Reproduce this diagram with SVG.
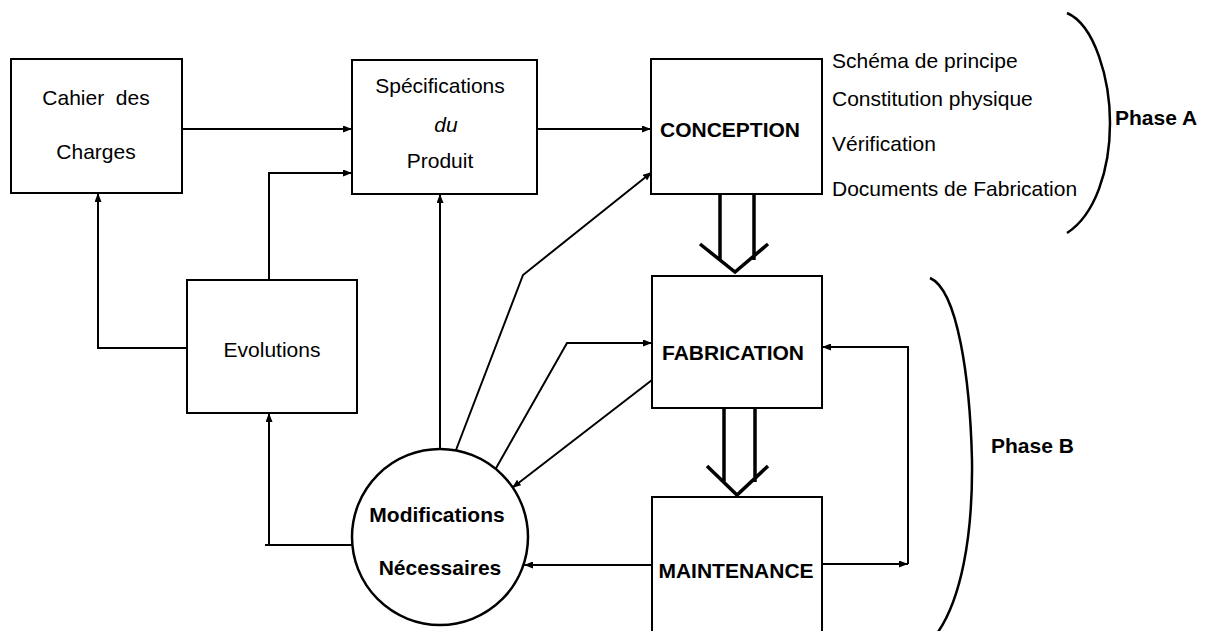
<svg xmlns="http://www.w3.org/2000/svg" width="1215" height="631" viewBox="0 0 1215 631">
  <style>
    .box { fill: #fff; stroke: #000; stroke-width: 2; }
    .lbl { font-family: "Liberation Sans", Arial, sans-serif; font-size: 21px; fill: #000; text-anchor: middle; }
    .bold { font-weight: bold; }
    .side { font-family: "Liberation Sans", Arial, sans-serif; font-size: 21px; fill: #000; }
    .conn { fill: none; stroke: #000; stroke-width: 2; }
    .flow { fill: none; stroke: #000; stroke-width: 3.5; stroke-linejoin: miter; }
    .brace { fill: none; stroke: #000; stroke-width: 2.5; }
  </style>
  <defs>
    <marker id="arrow" markerUnits="userSpaceOnUse" markerWidth="9" markerHeight="7" refX="9" refY="3.5" orient="auto">
      <path d="M0,0 L9,3.5 L0,7 z" fill="#000"/>
    </marker>
  </defs>
  <rect width="1215" height="631" fill="#fff"/>

  <!-- connectors -->
  <g id="connectors">
    <path class="conn" d="M182,129 H352" marker-end="url(#arrow)"/>
    <path class="conn" d="M269,280 V173 H352" marker-end="url(#arrow)"/>
    <path class="conn" d="M187,348 H98 V193" marker-end="url(#arrow)"/>
    <path class="conn" d="M537,129 H651" marker-end="url(#arrow)"/>
    <path class="conn" d="M440,449 V194" marker-end="url(#arrow)"/>
    <path class="conn" d="M456,450 L523,275 L652,172" marker-end="url(#arrow)"/>
    <path class="conn" d="M495,470 L567,343 H652" marker-end="url(#arrow)"/>
    <path class="conn" d="M652,380 L512,488" marker-end="url(#arrow)"/>
    <path class="conn" d="M652,565 H524" marker-end="url(#arrow)"/>
    <path class="conn" d="M352,545 H265 M269,545 V413" marker-end="url(#arrow)"/>
    <path class="conn" d="M822,564 H908" marker-end="url(#arrow)"/>
    <path class="conn" d="M908,564 V347 H822" marker-end="url(#arrow)"/>
    <!-- hollow flow arrows between phases -->
    <path class="flow" d="M720,194 V260 M754,194 V260 M700,244 L735,272 L768,244"/>
    <path class="flow" d="M724,408 V482 M755,408 V482 M707,466 L737,495 L768,466"/>
  </g>

  <g id="cahier">
    <rect class="box" x="11" y="59" width="171" height="134"/>
    <text class="lbl" x="96" y="105" xml:space="preserve">Cahier  des</text>
    <text class="lbl" x="96" y="159">Charges</text>
  </g>

  <g id="specifications">
    <rect class="box" x="352" y="60" width="185" height="134"/>
    <text class="lbl" x="440" y="93">Spécifications</text>
    <text class="lbl" x="446" y="132" font-style="italic">du</text>
    <text class="lbl" x="440" y="168">Produit</text>
  </g>

  <g id="evolutions">
    <rect class="box" x="187" y="280" width="170" height="133"/>
    <text class="lbl" x="272" y="357">Evolutions</text>
  </g>

  <g id="conception">
    <rect class="box" x="651" y="59" width="171" height="135"/>
    <text class="lbl bold" x="730" y="137">CONCEPTION</text>
  </g>

  <g id="conception-steps">
    <text class="side" x="832" y="68">Schéma de principe</text>
    <text class="side" x="832" y="106">Constitution physique</text>
    <text class="side" x="832" y="151">Vérification</text>
    <text class="side" x="832" y="196">Documents de Fabrication</text>
  </g>

  <g id="fabrication">
    <rect class="box" x="652" y="276" width="170" height="132"/>
    <text class="lbl bold" x="733" y="360">FABRICATION</text>
  </g>

  <g id="maintenance">
    <rect class="box" x="652" y="497" width="170" height="150"/>
    <text class="lbl bold" x="736" y="578">MAINTENANCE</text>
  </g>

  <g id="modifications">
    <circle cx="440" cy="537" r="88" fill="#fff" stroke="#000" stroke-width="2.5"/>
    <text class="lbl bold" x="437" y="522">Modifications</text>
    <text class="lbl bold" x="440" y="575">Nécessaires</text>
  </g>

  <g id="phase-a">
    <path class="brace" d="M1067,13 C1095,25 1110,80 1110,123 C1110,170 1095,215 1067,233"/>
    <text class="side bold" x="1115" y="125" font-size="20">Phase A</text>
  </g>

  <g id="phase-b">
    <path class="brace" d="M930,278 C958,290 970,380 972,460 C973,540 960,600 938,632"/>
    <text class="side bold" x="991" y="453">Phase B</text>
  </g>
</svg>
